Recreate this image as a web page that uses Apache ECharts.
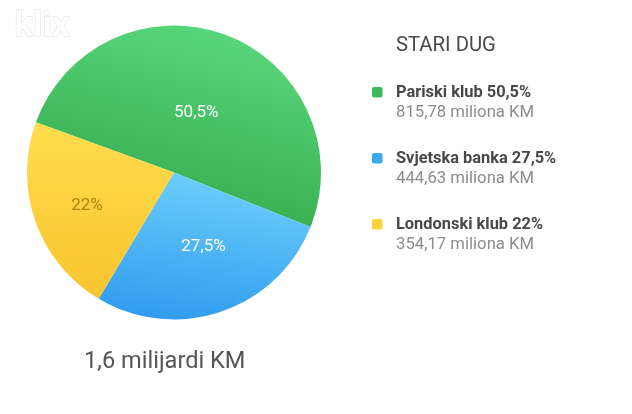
<!DOCTYPE html>
<html><head><meta charset="utf-8">
<style>html,body{margin:0;padding:0;background:#fff}#c{width:632px;height:414px}</style>
<script src="https://cdn.jsdelivr.net/npm/echarts@6/dist/echarts.min.js"></script>
</head><body><div id="c"></div>
<script>
const categories = ['Pariski klub', 'Svjetska banka', 'Londonski klub'];
const shares = [50.5, 27.5, 22];
const shareLabels = ['50,5%', '27,5%', '22%'];
const amounts = ['815,78 miliona KM', '444,63 miliona KM', '354,17 miliona KM'];
const swatches = ['#3DB85C', '#3BA9F2', '#FBD13C'];
const gradients = [
  [0.6, 0, 0.42, 1, '#58D67C', '#35A94B'],
  [0.6, 0, 0.5, 1, '#6ED0FB', '#329EEF'],
  [0.5, 0, 0.5, 1, '#FFDD4E', '#F8C42E']
];
const labelColors = ['#fff', '#fff', '#AE840C'];
const labelShift = [[-5, 12], [5, 2], [-15, 8]];
const title = 'STARI DUG';
const total = '1,6 milijardi KM';
const logo = 'klix';
const font = 'Roboto';

const chart = echarts.init(document.getElementById('c'), null, {renderer: 'canvas'});
const legendTop = [78, 144, 210];
const graphic = [
  {type:'text', left:14, top:9, style:{text:logo, fontFamily:font, fontSize:35, fontWeight:700, fill:'#fff', stroke:'#dedede', lineWidth:1}},
  {type:'text', left:396, top:36, style:{text:title, fontFamily:font, fontSize:20.3, fill:'#4a4a4a'}},
  {type:'text', left:84, top:350, style:{text:total, fontFamily:font, fontSize:23.6, fill:'#555'}}
];
categories.forEach((c, i) => {
  graphic.push({type:'rect', left:372, top:legendTop[i] + 9, shape:{width:10.5, height:10.5, r:2}, style:{fill:swatches[i]}});
  graphic.push({type:'text', left:396, top:legendTop[i] + 7, style:{text:c + ' ' + shareLabels[i], fontFamily:font, fontSize:16.4, fontWeight:700, fill:'#484848'}});
  graphic.push({type:'text', left:396, top:legendTop[i] + 26, style:{text:amounts[i], fontFamily:font, fontSize:16.7, fill:'#8c8c8c'}});
});
chart.setOption({
  animation:false,
  backgroundColor:'#fff',
  graphic,
  series:[{
    type:'pie',
    center:[174,172.5],
    radius:[0,147],
    startAngle:160,
    clockwise:true,
    silent:true,
    labelLine:{show:false},
    labelLayout:p => ({dx:labelShift[p.dataIndex][0], dy:labelShift[p.dataIndex][1]}),
    data:categories.map((c,i) => ({
      name:c,
      value:shares[i],
      itemStyle:{color:new echarts.graphic.LinearGradient(gradients[i][0],gradients[i][1],gradients[i][2],gradients[i][3],[{offset:0,color:gradients[i][4]},{offset:1,color:gradients[i][5]}])},
      label:{show:true, position:'inside', formatter:shareLabels[i], fontFamily:font, fontSize:17, color:labelColors[i]}
    }))
  }]
});
</script></body></html>
